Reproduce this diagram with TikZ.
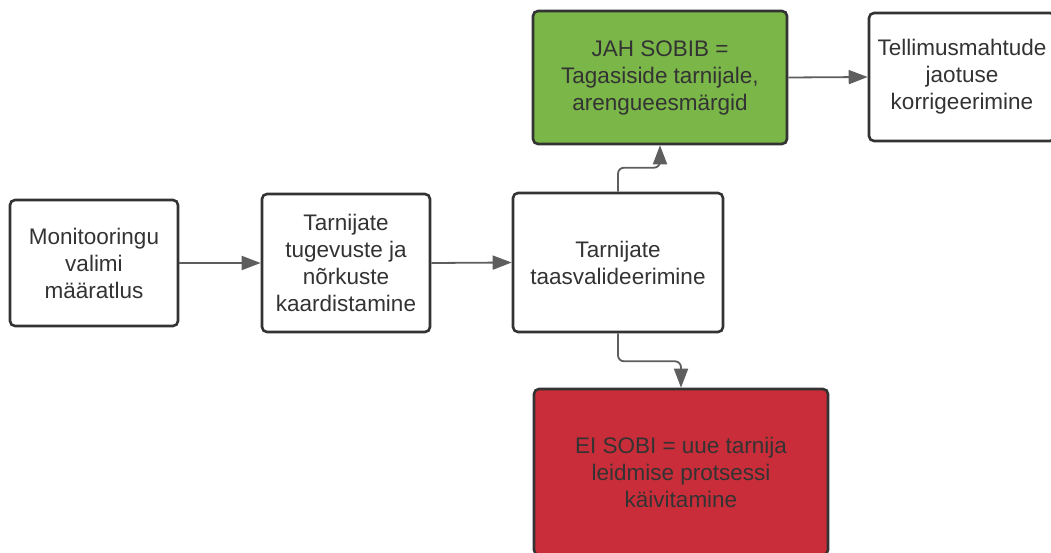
\documentclass[tikz,border=0pt]{standalone}
\usepackage{fontspec}
\setmainfont{Liberation Sans}
\usetikzlibrary{arrows.meta}
\definecolor{BoxLine}{HTML}{333333}
\definecolor{ArrowGray}{HTML}{5E5E5E}
\definecolor{OkGreen}{HTML}{7AB648}
\definecolor{NoRed}{HTML}{C92D39}
\begin{document}
\begin{tikzpicture}[x=1pt, y=-1pt,
  every node/.style={font=\fontsize{22.5}{27}\selectfont, text=BoxLine},
  box/.style={draw=BoxLine, line width=2.6pt, rounded corners=5pt, fill=white, align=center, inner sep=0pt},
  arr/.style={draw=ArrowGray, line width=1.8pt, rounded corners=6pt, -{Triangle[length=19pt, width=14pt]}}]
\useasboundingbox (0,0) rectangle (1051,553);

% Boxes
\node[box, minimum width=168pt, minimum height=126pt] (valim) at (94,263) {Monitooringu\\valimi\\määratlus};
\node[box, minimum width=168pt, minimum height=138pt] (kaart) at (346,263) {Tarnijate\\tugevuste ja\\nõrkuste\\kaardistamine};
\node[box, minimum width=210pt, minimum height=139pt] (taas) at (618,262.5) {Tarnijate\\taasvalideerimine};
\node[box, fill=OkGreen, minimum width=254pt, minimum height=133pt] (jah) at (660,77.5) {JAH SOBIB =\\Tagasiside tarnijale,\\arengueesmärgid};
\node[box, minimum width=186pt, minimum height=128pt] (maht) at (962,77) {Tellimusmahtude\\jaotuse\\korrigeerimine};
\node[box, fill=NoRed, minimum width=294pt, minimum height=166pt] (ei) at (681,472) {EI SOBI = uue tarnija\\leidmise protsessi\\käivitamine};

% Connectors
\draw[arr] (valim.east) -- (kaart.west);
\draw[arr] (kaart.east) -- (taas.west);
\draw[arr] (taas.north) -- ++(0,-24) -| (jah.south);
\draw[arr] (taas.south) -- ++(0,28) -| (ei.north);
\draw[arr] (jah.east) -- (maht.west);
\end{tikzpicture}
\end{document}
